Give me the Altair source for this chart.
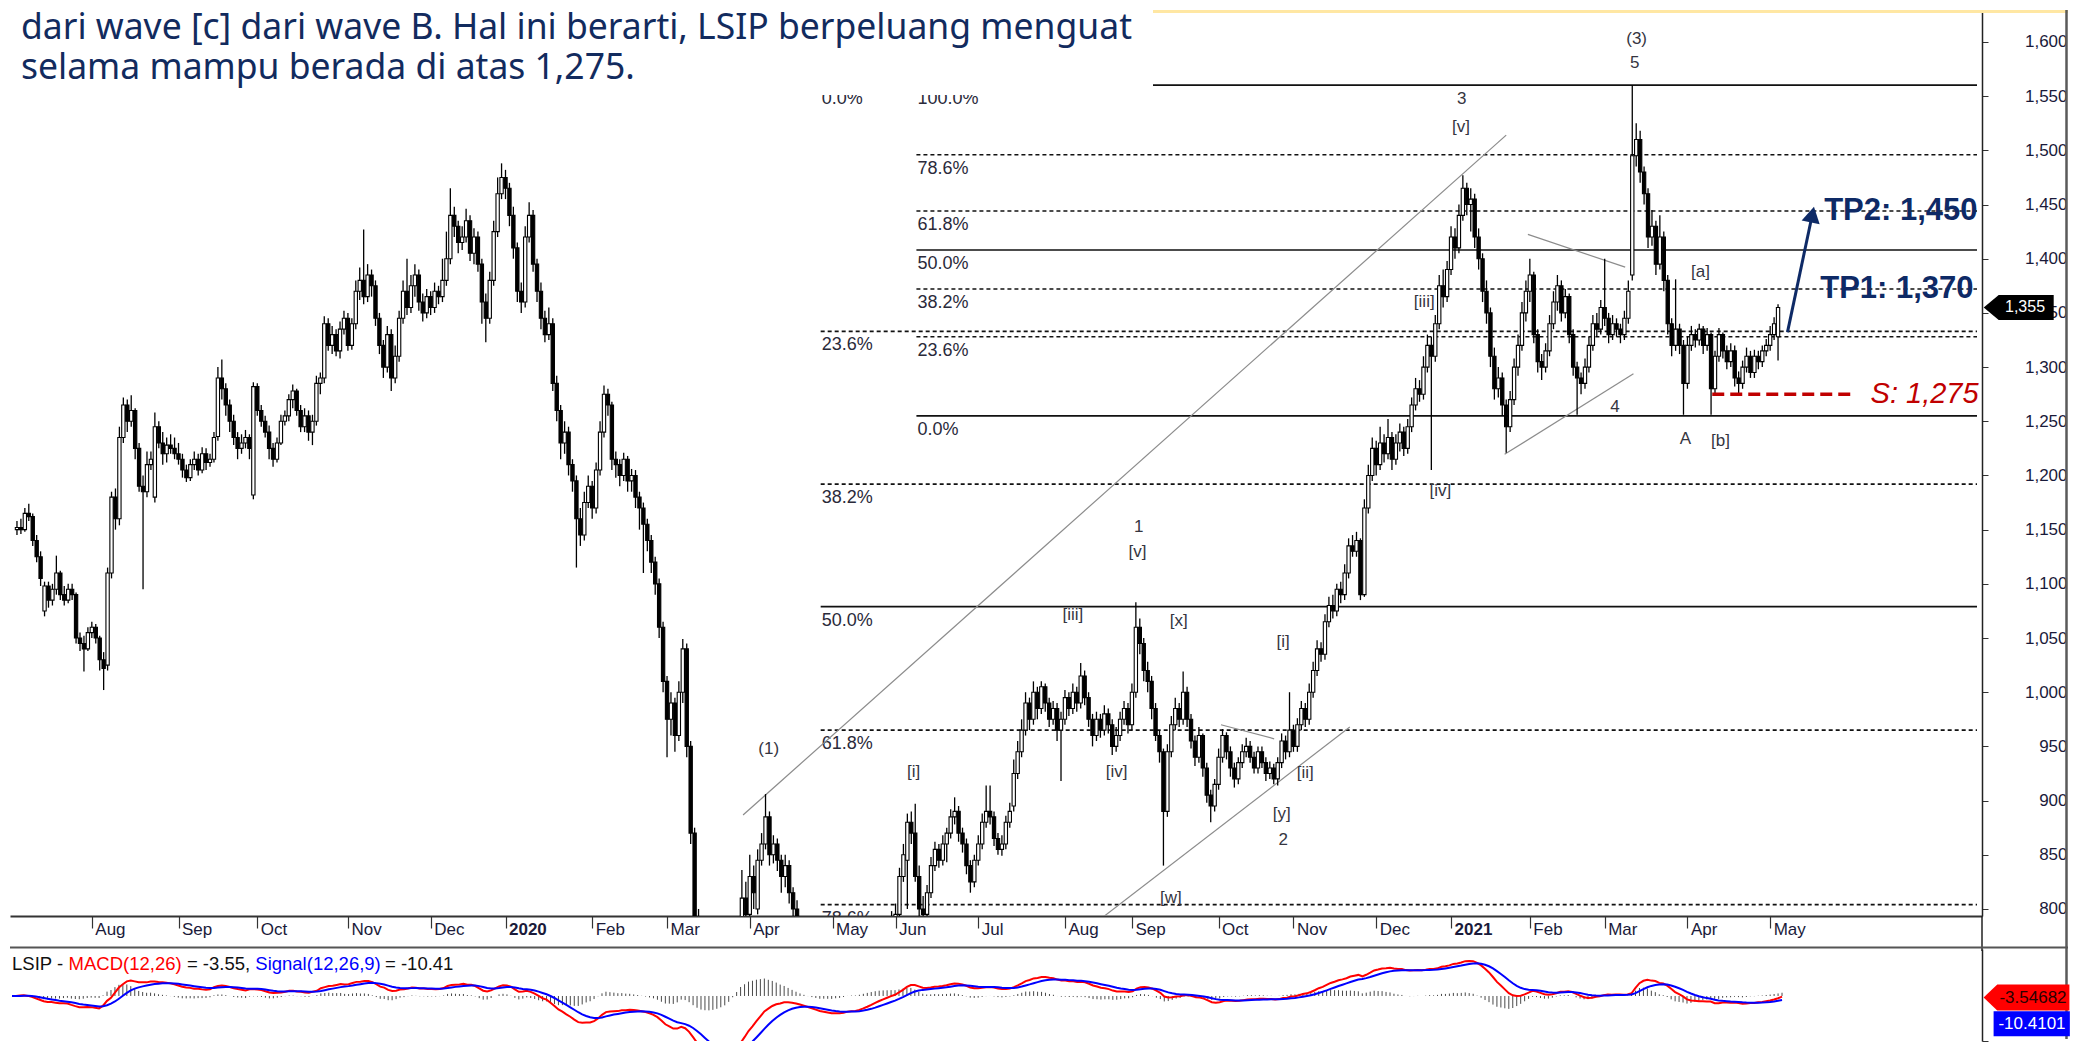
import altair as alt
import pandas as pd

# ---------------- price data (one candle per trading day, Jul-2019 .. May-2021) -------------
OPEN = [
1150,1152,1150,1165,1162,1140,1125,1075,1098,1085,
1095,1110,1090,1085,1095,1090,1050,1045,1040,1055,
1060,1050,1030,1025,1110,1180,1160,1235,1265,1250,
1260,1225,1190,1185,1210,1180,1245,1230,1220,1228,
1225,1220,1215,1205,1198,1210,1215,1205,1220,1212,
1215,1236,1290,1280,1265,1250,1235,1225,1230,1235,
1182,1282,1260,1250,1240,1225,1215,1230,1250,1255,
1270,1278,1260,1245,1255,1240,1250,1285,1290,1340,
1320,1330,1315,1335,1345,1320,1340,1370,1380,1365,
1385,1375,1345,1320,1300,1330,1290,1310,1345,1370,
1355,1375,1385,1360,1350,1365,1355,1370,1365,1380,
1400,1440,1430,1415,1420,1435,1405,1420,1395,1360,
1345,1380,1425,1460,1475,1465,1440,1410,1370,1360,
1420,1440,1395,1370,1345,1330,1340,1285,1260,1230,
1240,1210,1195,1160,1145,1175,1190,1170,1205,1240,
1275,1265,1215,1210,1200,1215,1195,1200,1180,1170,
1155,1140,1120,1100,1060,1010,975,990,960,1000,
1040,950,870,790,740,700,680,650,630,615,
605,600,645,700,760,810,795,830,800,845,
860,885,850,860,845,830,840,815,800,785,
770,760,745,735,720,705,715,700,690,705,
695,710,720,705,695,715,730,740,750,765,
770,775,780,790,795,830,845,880,870,830,
800,795,815,840,855,845,860,870,885,890,
870,860,840,825,845,860,880,890,885,865,
855,860,880,895,925,945,965,990,975,1000,
985,1005,990,975,985,965,975,995,985,1000,
990,1015,995,975,960,975,965,980,970,950,
960,975,985,970,1000,1060,1045,1020,1010,985,
960,945,890,945,970,985,975,1000,975,955,
940,960,930,905,895,915,940,960,945,930,
920,935,945,950,940,930,945,935,925,930,
920,935,955,945,965,950,970,985,975,1000,
1020,1040,1035,1065,1080,1075,1095,1090,1110,1135,
1130,1140,1090,1170,1200,1225,1210,1230,1220,1235,
1215,1230,1240,1225,1245,1265,1280,1275,1300,1320,
1310,1340,1375,1365,1390,1420,1410,1440,1465,1450,
1455,1420,1400,1370,1350,1310,1280,1290,1265,1245,
1270,1300,1320,1350,1370,1385,1330,1305,1300,1315,
1340,1360,1375,1350,1365,1330,1300,1290,1285,1300,
1320,1340,1335,1355,1345,1330,1340,1335,1330,1345,
1385,1495,1510,1480,1460,1420,1430,1395,1420,1380,
1340,1320,1335,1320,1285,1320,1330,1325,1335,1320,
1330,1280,1310,1330,1315,1305,1315,1290,1285,1300,
1310,1295,1310,1305,1315,1320,1330,1328]

HIGH = [
1158,1160,1170,1174,1165,1145,1130,1102,1102,1100,
1126,1112,1098,1100,1100,1092,1055,1052,1060,1065,
1063,1052,1037,1115,1185,1188,1245,1272,1270,1274,
1262,1230,1200,1222,1222,1258,1250,1240,1235,1238,
1235,1230,1220,1210,1215,1222,1220,1226,1225,1220,
1240,1300,1307,1285,1270,1256,1240,1238,1242,1238,
1286,1285,1265,1255,1246,1230,1235,1256,1260,1275,
1284,1280,1265,1262,1260,1256,1292,1295,1347,1345,
1338,1335,1342,1352,1350,1345,1380,1392,1427,1395,
1390,1380,1350,1325,1338,1335,1320,1352,1380,1400,
1385,1395,1390,1368,1372,1370,1378,1375,1400,1425,
1465,1448,1435,1430,1446,1440,1428,1425,1400,1368,
1388,1435,1475,1488,1482,1470,1448,1415,1378,1430,
1452,1445,1400,1378,1352,1355,1345,1292,1265,1250,
1245,1215,1200,1170,1185,1200,1195,1212,1250,1283,
1280,1268,1222,1215,1221,1218,1206,1205,1185,1175,
1160,1145,1125,1105,1065,1015,1000,995,1010,1049,
1045,955,875,800,750,715,690,665,640,625,
615,650,705,770,836,825,850,840,855,870,
906,890,868,865,850,850,845,820,808,790,
775,765,752,740,725,722,720,705,712,710,
718,728,724,710,722,738,748,758,772,778,
785,790,798,805,838,860,888,890,897,840,
812,822,848,862,860,868,875,892,903,895,
875,865,845,850,868,888,914,914,890,870,
868,886,898,938,955,975,1000,995,1010,1005,
1010,1008,995,992,990,982,1002,1000,1008,1005,
1027,1020,1000,980,982,980,988,985,975,968,
982,992,990,1008,1083,1068,1050,1028,1015,990,
965,948,952,978,995,990,1019,1005,980,960,
968,962,935,910,920,948,966,963,950,935,
940,952,958,955,945,950,950,940,936,934,
940,962,960,1000,970,976,992,990,1008,1028,
1048,1046,1072,1088,1090,1100,1102,1118,1142,1145,
1148,1142,1178,1210,1235,1232,1245,1238,1252,1240,
1238,1248,1245,1252,1272,1290,1288,1310,1330,1328,
1348,1385,1390,1398,1430,1428,1450,1477,1470,1465,
1460,1428,1405,1380,1355,1318,1300,1295,1270,1278,
1308,1330,1360,1380,1400,1388,1335,1312,1322,1348,
1370,1385,1380,1372,1368,1335,1305,1295,1308,1328,
1348,1350,1362,1400,1350,1348,1345,1340,1352,1380,
1560,1525,1518,1485,1465,1445,1435,1440,1425,1385,
1345,1381,1340,1325,1328,1338,1335,1340,1338,1336,
1332,1315,1336,1332,1320,1322,1320,1296,1306,1318,
1315,1316,1315,1320,1326,1338,1346,1358]

LOW = [
1145,1146,1148,1158,1135,1120,1098,1070,1078,1080,
1090,1085,1080,1082,1085,1045,1038,1019,1038,1050,
1045,1020,1002,1020,1105,1150,1154,1230,1240,1245,
1215,1185,1095,1180,1205,1175,1225,1210,1212,1220,
1215,1210,1198,1194,1195,1205,1200,1202,1205,1208,
1212,1232,1270,1255,1240,1228,1215,1220,1225,1215,
1178,1255,1245,1235,1215,1208,1212,1228,1246,1250,
1262,1255,1240,1240,1232,1228,1246,1275,1285,1315,
1312,1310,1308,1330,1315,1316,1335,1362,1358,1360,
1365,1338,1312,1290,1295,1278,1285,1305,1340,1348,
1350,1365,1352,1342,1345,1348,1350,1358,1360,1375,
1395,1420,1405,1408,1415,1398,1395,1388,1340,1323,
1340,1375,1420,1455,1455,1430,1400,1360,1350,1355,
1415,1388,1360,1335,1323,1325,1278,1250,1215,1220,
1200,1185,1115,1135,1140,1170,1160,1165,1200,1235,
1255,1205,1198,1190,1195,1185,1185,1170,1150,1110,
1130,1110,1090,1050,1000,940,960,945,955,990,
940,860,780,730,690,670,640,620,605,598,
598,598,640,695,755,785,790,800,795,840,
855,840,842,835,815,820,805,790,775,760,
750,740,728,712,698,700,692,682,685,688,
690,705,700,688,690,710,725,735,745,758,
765,770,775,785,790,825,800,860,825,790,
785,790,810,835,838,840,843,865,878,862,
852,832,815,820,840,855,875,878,858,850,
849,855,875,890,920,940,960,965,970,975,
980,982,968,970,955,918,970,978,980,982,
985,988,968,950,955,958,960,962,942,945,
955,970,962,965,995,1035,1010,1000,975,955,
935,840,885,940,965,968,970,968,948,932,
935,922,898,880,890,910,935,938,922,912,
915,930,940,935,925,925,930,918,920,915,
914,930,938,940,945,945,965,968,970,995,
1015,1028,1030,1060,1068,1070,1082,1085,1105,1125,
1125,1085,1088,1165,1195,1200,1205,1212,1215,1205,
1210,1222,1218,1220,1240,1260,1268,1270,1295,1205,
1305,1335,1355,1360,1385,1400,1405,1435,1440,1425,
1410,1390,1360,1340,1300,1270,1272,1255,1221,1240,
1265,1292,1315,1342,1360,1322,1295,1288,1295,1310,
1335,1352,1342,1345,1322,1292,1256,1275,1280,1295,
1315,1328,1330,1338,1322,1325,1328,1322,1325,1340,
1380,1485,1470,1450,1410,1412,1385,1390,1370,1330,
1310,1315,1312,1256,1280,1315,1318,1320,1312,1315,
1256,1275,1305,1308,1298,1300,1282,1275,1280,1295,
1290,1290,1298,1300,1310,1315,1325,1306]

CLOSE = [
1152,1150,1165,1162,1140,1125,1105,1098,1085,1095,
1110,1090,1085,1095,1090,1050,1045,1040,1055,1060,
1050,1030,1022,1110,1180,1160,1235,1265,1250,1260,
1225,1190,1185,1210,1215,1245,1230,1220,1228,1225,
1220,1215,1205,1198,1210,1215,1205,1220,1212,1215,
1235,1290,1280,1265,1250,1235,1225,1230,1235,1225,
1282,1260,1250,1240,1225,1215,1230,1250,1255,1270,
1278,1260,1245,1255,1240,1250,1285,1290,1340,1320,
1330,1315,1335,1345,1320,1340,1370,1380,1365,1385,
1375,1345,1320,1300,1330,1290,1310,1345,1370,1355,
1375,1385,1360,1350,1365,1355,1370,1365,1380,1400,
1440,1430,1415,1420,1435,1405,1420,1395,1360,1345,
1380,1425,1460,1475,1465,1440,1410,1370,1360,1420,
1440,1395,1370,1345,1330,1340,1285,1260,1230,1240,
1210,1195,1160,1145,1175,1190,1170,1205,1240,1275,
1265,1215,1210,1200,1215,1195,1200,1180,1170,1155,
1140,1120,1100,1060,1010,975,990,960,1000,1040,
950,870,790,740,700,680,650,630,615,605,
600,645,700,760,810,795,830,815,845,860,
885,850,860,845,830,840,815,800,785,770,
760,745,735,720,705,715,700,690,705,695,
710,720,705,695,715,730,740,750,765,770,
775,780,790,795,830,850,880,870,830,800,
795,815,840,855,845,860,870,885,890,870,
860,840,825,845,860,880,890,885,865,855,
860,880,890,925,945,965,990,975,1000,985,
1005,990,975,985,965,975,995,985,1000,990,
1015,995,975,960,975,965,980,970,950,960,
975,985,970,1000,1060,1045,1020,1010,985,960,
945,890,945,970,985,975,1000,975,955,940,
960,930,905,895,915,940,960,945,930,920,
935,945,950,940,930,945,935,925,930,920,
935,955,945,965,950,970,985,975,1000,1020,
1040,1035,1065,1080,1075,1095,1090,1110,1135,1130,
1140,1090,1170,1200,1225,1210,1230,1220,1235,1215,
1230,1240,1225,1245,1265,1280,1275,1300,1320,1310,
1340,1375,1365,1390,1420,1410,1440,1465,1450,1455,
1420,1400,1370,1350,1310,1280,1290,1265,1245,1270,
1300,1320,1350,1370,1385,1330,1305,1300,1315,1340,
1360,1375,1350,1365,1330,1300,1290,1285,1300,1320,
1340,1335,1355,1345,1330,1340,1335,1330,1345,1370,
1495,1510,1480,1460,1420,1430,1395,1420,1380,1340,
1320,1335,1320,1285,1320,1330,1325,1335,1320,1330,
1280,1310,1330,1315,1305,1315,1290,1285,1300,1310,
1295,1310,1305,1315,1320,1330,1340,1355]

assert len(OPEN) == len(HIGH) == len(LOW) == len(CLOSE) == 448, (len(OPEN), len(HIGH), len(LOW), len(CLOSE))

# ---------------- axis labels ----------------
MONTH_IDX = [19, 41, 61, 84, 105, 124, 146, 165, 186, 207, 223, 244, 266, 283, 305, 324, 345, 364, 384, 403, 424, 445]
MONTH_LBL = ["Aug", "Sep", "Oct", "Nov", "Dec", "2020", "Feb", "Mar", "Apr", "May", "Jun",
             "Jul", "Aug", "Sep", "Oct", "Nov", "Dec", "2021", "Feb", "Mar", "Apr", "May"]
PRICE_TICKS = list(range(800, 1601, 50))

# ---------------- Fibonacci levels ----------------
FIB_A_START = 228.3
FIB_A_LEVELS = [1560, 1496, 1444, 1408, 1372, 1328, 1255]
FIB_A_LABELS = ["100.0%", "78.6%", "61.8%", "50.0%", "38.2%", "23.6%", "0.0%"]
FIB_A_SOLID = [True, False, False, True, False, False, True]
FIB_B_START = 204.0
FIB_B_LEVELS = [1560, 1333, 1192, 1079, 965, 804]
FIB_B_LABELS = ["0.0%", "23.6%", "38.2%", "50.0%", "61.8%", "78.6%"]
FIB_B_SOLID = [True, False, False, True, False, False]

# ---------------- Elliott wave labels ----------------
WAVE_TEXT = ["(1)", "[i]", "[iii]", "1", "[v]", "[x]", "[iv]", "[i]", "[ii]", "[y]", "2", "[w]",
             "3", "[v]", "[iii]", "[iv]", "(3)", "5", "4", "A", "[b]", "[a]"]
WAVE_X = [190.8, 227.6, 268.0, 284.7, 284.4, 294.9, 279.1, 321.4, 327.0, 321.0, 321.4, 292.9,
          366.7, 366.5, 357.2, 361.3, 411.1, 410.6, 405.6, 423.5, 432.4, 427.3]
WAVE_Y = [948, 926, 1071, 1152, 1129, 1066, 926, 1046, 925, 888, 864, 810,
          1547, 1522, 1360, 1186, 1603, 1581, 1263, 1234, 1232, 1388]

# ---------------- trend lines ----------------
TL_X1 = [184.3, 275.7, 305.6, 383.5, 377.6]
TL_Y1 = [886.7, 792.6, 970.0, 1422.4, 1219.5]
TL_X2 = [378.0, 338.3, 319.1, 408.2, 410.3]
TL_Y2 = [1514.0, 967.9, 957.0, 1392.2, 1293.9]

# ---------------- targets ----------------
TP_TEXT = ["TP2: 1,450", "TP1: 1,370"]
TP_X = [458.7, 457.7]
TP_Y = [1443.6, 1372.2]
ARROW = {"x1": 449.4, "y1": 1332.3, "x2": 455.7, "y2": 1440.8}
SUPPORT = 1275
SUPPORT_X = [430.3, 465.4]
LAST_PRICE = 1355
MACD_LAST, SIGNAL_LAST = -3.55, -10.41

HEADLINE = ["dari wave [c] dari wave B. Hal ini berarti, LSIP berpeluang menguat",
            "selama mampu berada di atas 1,275."]

# ---------------- frames ----------------
N = len(CLOSE)
df = pd.DataFrame({"i": list(range(N)), "open": OPEN, "high": HIGH, "low": LOW, "close": CLOSE})
ONE = pd.DataFrame({"k": [0]})

cs = pd.Series(CLOSE, dtype=float)
ema12 = cs.ewm(span=12, adjust=False).mean()
ema26 = cs.ewm(span=26, adjust=False).mean()
macd = ema12 - ema26
signal = macd.ewm(span=9, adjust=False).mean()
mdf = pd.DataFrame({"i": list(range(N)), "macd": macd, "signal": signal, "hist": macd - signal})

fib_rows = []
for lv, lb, so in zip(FIB_A_LEVELS, FIB_A_LABELS, FIB_A_SOLID):
    fib_rows.append({"x": FIB_A_START, "x2": 497.5, "y": lv, "label": lb, "solid": so})
for lv, lb, so in zip(FIB_B_LEVELS, FIB_B_LABELS, FIB_B_SOLID):
    fib_rows.append({"x": FIB_B_START, "x2": 497.5, "y": lv, "label": lb, "solid": so})
fib = pd.DataFrame(fib_rows)

waves = pd.DataFrame({"x": WAVE_X, "y": WAVE_Y, "t": WAVE_TEXT})
tls = pd.DataFrame({"x": TL_X1, "y": TL_Y1, "x2": TL_X2, "y2": TL_Y2})
tps = pd.DataFrame({"x": TP_X, "y": TP_Y, "t": TP_TEXT})
arrow = pd.DataFrame([ARROW])
sup = pd.DataFrame({"x": [SUPPORT_X[0]], "x2": [SUPPORT_X[1]], "y": [SUPPORT], "xr": [497.9]})

W, H = 1972, 906
MH = 92
GAP = 33
XDOM = [-0.5, 497.5]
YDOM = [793.5, 1629.5]
FONT = "Liberation Sans"
NAVY = "#0e2a66"
RIGHT = 2058

xs = alt.Scale(domain=XDOM, nice=False, zero=False)
ys = alt.Scale(domain=YDOM, nice=False, zero=False)

label_expr = "[" + ",".join("'%s'" % m for m in MONTH_LBL) + "][indexof([" + ",".join(str(v) for v in MONTH_IDX) + "], datum.value)]"
bold_test = " || ".join("datum.value == %d" % MONTH_IDX[k] for k, m in enumerate(MONTH_LBL) if m.isdigit())

x_axis = alt.Axis(values=MONTH_IDX, labelExpr=label_expr, title=None, grid=False,
                  tickSize=12, tickColor="#333", tickWidth=1.2, domainColor="#333", domainWidth=2,
                  labelAlign="left", labelBaseline="top", labelPadding=-7, labelOffset=3,
                  labelFont=FONT, labelFontSize=17, labelColor="#1a1a3a",
                  labelFontWeight=alt.condition(bold_test, alt.value("bold"), alt.value("normal")),
                  labelOverlap=False, labelFlush=False)
y_axis = alt.Axis(orient="right", values=PRICE_TICKS, labelExpr="format(datum.value, ',')", title=None, grid=False,
                  tickSize=6, tickColor="#333", domainColor="#222", domainWidth=1.5,
                  labelAlign="right", labelPadding=79, labelBaseline="middle",
                  labelFont=FONT, labelFontSize=17, labelColor="#1a1a3a")


def X(field="x"):
    return alt.X(f"{field}:Q", scale=xs, axis=x_axis, title=None)


def Y(field="y"):
    return alt.Y(f"{field}:Q", scale=ys, axis=y_axis, title=None)


base = alt.Chart(df)

fib_solid = alt.Chart(fib).transform_filter("datum.solid").mark_rule(color="#111", strokeWidth=1.6, clip=True).encode(
    x=X(), x2="x2:Q", y=Y())
fib_dash = alt.Chart(fib).transform_filter("!datum.solid").mark_rule(color="#111", strokeWidth=1.6, strokeDash=[4, 3], clip=True).encode(
    x=X(), x2="x2:Q", y=Y())
fib_lbl = alt.Chart(fib).mark_text(align="left", baseline="middle", dy=14, dx=1, font=FONT, fontSize=18,
                                   color="#2a2a3a", clip=True).encode(x=X(), y=Y(), text="label:N")

trend = alt.Chart(tls).mark_rule(color="#8c8c8c", strokeWidth=1.2, clip=True).encode(
    x=X(), x2="x2:Q", y=Y(), y2="y2:Q")

wick = base.mark_rule(color="black", strokeWidth=1.3, clip=True).encode(
    x=X("i"), y=Y("low"), y2="high:Q")
body = base.mark_bar(size=3.3, stroke="black", strokeWidth=1.1, clip=True).encode(
    x=X("i"), y=Y("open"), y2="close:Q",
    fill=alt.condition("datum.close >= datum.open", alt.value("white"), alt.value("black")))

wave_lbl = alt.Chart(waves).mark_text(font=FONT, fontSize=17, color="#35353f", align="center",
                                      baseline="middle").encode(x=X(), y=Y(), text="t:N")

sup_line = alt.Chart(sup).mark_rule(color="#c00000", strokeWidth=3.5, strokeDash=[12, 6]).encode(
    x=X(), x2="x2:Q", y=Y())
sup_txt = alt.Chart(sup).mark_text(text="S: 1,275", align="right", baseline="middle", font=FONT,
                                   fontSize=29, fontStyle="italic", color="#c00000").encode(
    x=X("xr"), y=Y())

arrow_shaft = alt.Chart(arrow).mark_rule(color=NAVY, strokeWidth=3).encode(
    x=X("x1"), x2="x2:Q", y=Y("y1"), y2="y2:Q")
arrow_head = alt.Chart(arrow).mark_point(shape="triangle-up", filled=True, size=340, angle=12,
                                         color=NAVY, opacity=1).encode(x=X("x2"), y=Y("y2"))
tp_txt = alt.Chart(tps).mark_text(align="left", baseline="middle", font=FONT, fontSize=31,
                                  fontWeight="bold", color=NAVY).encode(x=X(), y=Y(), text="t:N")

box = alt.Chart(ONE).mark_rect(fill="white").encode(
    x=alt.value(0), x2=alt.value(1143), y=alt.value(0), y2=alt.value(85))
head1 = alt.Chart(ONE).mark_text(text=HEADLINE[0], align="left", baseline="top", font="Noto Sans",
                                 fontSize=35.5, color="#122b5e").encode(x=alt.value(11), y=alt.value(1))
head2 = alt.Chart(ONE).mark_text(text=HEADLINE[1], align="left", baseline="top", font="Noto Sans",
                                 fontSize=35.5, color="#122b5e").encode(x=alt.value(11), y=alt.value(41))

yellow_top = alt.Chart(ONE).mark_rule(color="#ffe7a3", strokeWidth=3).encode(
    x=alt.value(1143), x2=alt.value(RIGHT), y=alt.value(1.5))
right_border = alt.Chart(ONE).mark_rule(color="#5a5a5a", strokeWidth=2.5).encode(
    x=alt.value(RIGHT - 1.5), y=alt.value(0), y2=alt.value(H + GAP + MH - 2))
axis_bridge = alt.Chart(ONE).mark_rule(color="#222", strokeWidth=1.5).encode(
    x=alt.value(W), y=alt.value(H), y2=alt.value(H + GAP + 2))

tag_df = pd.DataFrame({"y": [LAST_PRICE], "t": ["{:,}".format(LAST_PRICE)]})
price_tag = alt.Chart(tag_df).mark_point(shape="M0,0L1.2,-1L5.6,-1L5.6,1L1.2,1Z", filled=True,
                                         size=625, color="black", opacity=1).encode(
    x=alt.value(1973.7), y=Y())
price_tag_txt = alt.Chart(tag_df).mark_text(align="center", baseline="middle", font=FONT, fontSize=16,
                                            color="white").encode(x=alt.value(2015), y=Y(), text="t:N")

price = alt.layer(
    fib_solid, fib_dash, fib_lbl, trend, wick, body, wave_lbl, sup_line, sup_txt,
    arrow_shaft, arrow_head, tp_txt, box, head1, head2, yellow_top, right_border, axis_bridge,
    price_tag, price_tag_txt
).properties(width=W, height=H)

# ---------------- MACD panel ----------------
mys = alt.Scale(domain=[-100.0, 104.4], nice=False, zero=False)
macd_axis = alt.Axis(orient="right", values=[-100], labels=False, title=None, grid=False, tickSize=6,
                     tickColor="#333", domainColor="#222", domainWidth=1.5)


def MX():
    return alt.X("i:Q", scale=xs, axis=None, title=None)


def MY(field):
    return alt.Y(f"{field}:Q", scale=mys, axis=macd_axis, title=None)


mbase = alt.Chart(mdf)
hist_l = mbase.mark_rule(color="#4a4a4a", strokeWidth=1, clip=True).encode(
    x=MX(), y=MY("hist"), y2=alt.datum(0))
macd_l = mbase.mark_line(color="#ff0000", strokeWidth=2, clip=True).encode(x=MX(), y=MY("macd"))
sig_l = mbase.mark_line(color="#0000ff", strokeWidth=2, clip=True).encode(x=MX(), y=MY("signal"))
top_rule = alt.Chart(ONE).mark_rule(color="#555", strokeWidth=2).encode(
    x=alt.value(0), x2=alt.value(RIGHT), y=alt.value(-1.5))

MACD_PARTS = ["LSIP -", "MACD(12,26)", "= -3.55,", "Signal(12,26,9)", "= -10.41"]
MACD_COLORS = ["#111111", "#ff0000", "#111111", "#0000ff", "#111111"]
MACD_PX = [2, 58.6, 176.9, 245.3, 375.0]
macd_title = [alt.Chart(ONE).mark_text(text=t, align="left", baseline="middle", font=FONT, fontSize=18.5,
                                       color=c).encode(x=alt.value(px), y=alt.value(15))
              for t, c, px in zip(MACD_PARTS, MACD_COLORS, MACD_PX)]

mtag_df = pd.DataFrame({"v": [MACD_LAST], "s": [SIGNAL_LAST]})
red_tag = alt.Chart(mtag_df).mark_point(shape="M0,0L1.05,-1L6.6,-1L6.6,1L1.05,1Z", filled=True, size=676,
                                        color="#ff0000", opacity=1).encode(x=alt.value(1973.6), y=MY("v"))
red_txt = alt.Chart(mtag_df).mark_text(text="-3.54682", align="center", baseline="middle", font=FONT,
                                       fontSize=17, color="#2a0000").encode(x=alt.value(2023), y=MY("v"))
blue_tag = alt.Chart(mtag_df).mark_point(shape="M0,-1L6.1,-1L6.1,1L0,1Z", filled=True, size=625,
                                         color="#0000ff", opacity=1).encode(
    x=alt.value(1983.6), y=MY("s"), yOffset=alt.value(23))
blue_txt = alt.Chart(mtag_df).mark_text(text="-10.4101", align="center", baseline="middle", font=FONT,
                                        fontSize=17, color="white").encode(
    x=alt.value(2022), y=MY("s"), yOffset=alt.value(23))

macd_panel = alt.layer(hist_l, macd_l, sig_l, top_rule, *macd_title, red_tag, red_txt, blue_tag, blue_txt
                       ).properties(width=W, height=MH)

chart = alt.vconcat(price, macd_panel, spacing=GAP, bounds="flush").properties(
    padding=0, background="white"
).configure_view(stroke="transparent")

chart.save("out.html", embed_options={"renderer": "svg", "actions": False})
